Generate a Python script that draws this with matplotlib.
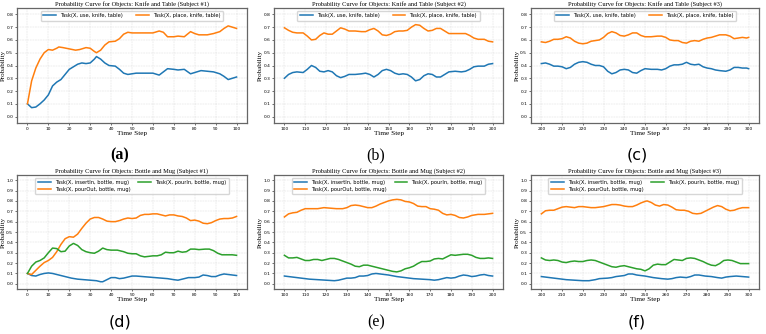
import numpy as np
import matplotlib
matplotlib.use("Agg")
import matplotlib.pyplot as plt

# ---- panel (a): knife and table, subject #1 ----
t_a_use = [0, 2, 4, 6, 8, 10, 12, 14, 16, 18, 20, 22, 24, 26, 28, 30, 32, 33, 35, 37, 39, 42, 44, 46, 48,
           50, 52, 55, 58, 60, 63, 65, 67, 70, 72, 75, 78, 80, 83, 86, 89, 92, 94, 96, 98, 100]
a_use = [0.10, 0.07, 0.075, 0.10, 0.13, 0.17, 0.24, 0.27, 0.29, 0.33, 0.37, 0.39, 0.41, 0.42, 0.415, 0.42,
         0.45, 0.47, 0.45, 0.42, 0.40, 0.395, 0.37, 0.34, 0.33, 0.335, 0.34, 0.34, 0.34, 0.34, 0.325, 0.35,
         0.375, 0.37, 0.365, 0.37, 0.335, 0.345, 0.36, 0.355, 0.35, 0.335, 0.315, 0.29, 0.30, 0.31]
t_a_place = [0, 2, 4, 6, 8, 10, 12, 14, 15, 17, 20, 23, 25, 28, 30, 32, 33, 35, 37, 39, 42, 44, 46, 48, 50,
             53, 56, 60, 63, 65, 67, 70, 72, 75, 78, 80, 82, 86, 89, 92, 94, 96, 98, 100]
a_place = [0.10, 0.28, 0.38, 0.45, 0.50, 0.525, 0.52, 0.535, 0.545, 0.54, 0.53, 0.52, 0.525, 0.54, 0.535,
           0.51, 0.50, 0.52, 0.56, 0.585, 0.59, 0.61, 0.645, 0.66, 0.655, 0.655, 0.655, 0.655, 0.67, 0.66,
           0.625, 0.625, 0.63, 0.625, 0.665, 0.65, 0.64, 0.64, 0.65, 0.665, 0.69, 0.71, 0.70, 0.69]

# ---- panel (b): knife and table, subject #2 ----
t_b = [100, 102, 104, 106, 109, 111, 113, 115, 117, 119, 121, 123, 125, 127, 129, 131, 134, 137, 139, 141,
       143, 145, 147, 149, 151, 153, 155, 157, 159, 161, 163, 165, 167, 169, 171, 173, 175, 177, 179, 182,
       185, 187, 189, 191, 193, 196, 198, 200]
b_use = [0.30, 0.33, 0.345, 0.35, 0.345, 0.37, 0.40, 0.385, 0.355, 0.35, 0.36, 0.35, 0.32, 0.305, 0.315,
         0.33, 0.33, 0.335, 0.34, 0.33, 0.31, 0.33, 0.36, 0.37, 0.36, 0.34, 0.33, 0.335, 0.33, 0.31, 0.28,
         0.29, 0.32, 0.335, 0.33, 0.31, 0.31, 0.33, 0.35, 0.355, 0.35, 0.355, 0.37, 0.39, 0.395, 0.395,
         0.41, 0.415]
b_place = [0.695, 0.675, 0.66, 0.655, 0.655, 0.63, 0.60, 0.605, 0.635, 0.655, 0.645, 0.645, 0.67, 0.695,
           0.685, 0.67, 0.67, 0.665, 0.665, 0.68, 0.69, 0.67, 0.64, 0.635, 0.645, 0.665, 0.67, 0.67, 0.675,
           0.70, 0.72, 0.715, 0.69, 0.67, 0.675, 0.69, 0.69, 0.67, 0.65, 0.65, 0.65, 0.65, 0.635, 0.615,
           0.605, 0.605, 0.59, 0.585]

# ---- panel (c): knife and table, subject #3 ----
t_c = [200, 202, 204, 206, 208, 210, 212, 214, 216, 218, 220, 222, 224, 226, 228, 230, 232, 234, 236, 238,
       240, 242, 244, 246, 248, 250, 253, 256, 258, 260, 262, 264, 266, 268, 270, 272, 274, 276, 278, 280,
       282, 284, 286, 289, 291, 293, 295, 297, 299, 300]
c_use = [0.415, 0.42, 0.41, 0.395, 0.395, 0.39, 0.375, 0.385, 0.41, 0.425, 0.43, 0.425, 0.41, 0.40, 0.40,
         0.39, 0.355, 0.335, 0.345, 0.365, 0.37, 0.365, 0.345, 0.34, 0.36, 0.375, 0.37, 0.37, 0.365, 0.375,
         0.395, 0.405, 0.405, 0.41, 0.425, 0.41, 0.405, 0.41, 0.39, 0.38, 0.375, 0.365, 0.36, 0.355, 0.365,
         0.385, 0.385, 0.38, 0.38, 0.375]
c_place = [0.585, 0.58, 0.59, 0.605, 0.605, 0.61, 0.625, 0.615, 0.59, 0.575, 0.57, 0.575, 0.59, 0.595,
           0.60, 0.62, 0.65, 0.665, 0.655, 0.635, 0.63, 0.64, 0.655, 0.655, 0.635, 0.625, 0.625, 0.63, 0.63,
           0.62, 0.60, 0.595, 0.595, 0.58, 0.575, 0.59, 0.595, 0.59, 0.605, 0.615, 0.62, 0.63, 0.64, 0.64,
           0.63, 0.61, 0.615, 0.62, 0.615, 0.62]

# ---- panel (d): bottle and mug, subject #1 ----
t_d_in = [0, 2, 4, 6, 8, 10, 12, 15, 18, 21, 24, 27, 30, 33, 35, 36, 38, 40, 42, 44, 46, 48, 50, 52, 55,
          58, 61, 64, 67, 70, 72, 74, 77, 80, 82, 84, 86, 88, 90, 92, 94, 96, 98, 100]
d_insert = [0.10, 0.08, 0.075, 0.09, 0.10, 0.105, 0.10, 0.085, 0.07, 0.055, 0.045, 0.04, 0.035, 0.03,
            0.02, 0.02, 0.04, 0.06, 0.06, 0.05, 0.055, 0.065, 0.075, 0.075, 0.07, 0.065, 0.06, 0.055, 0.05,
            0.04, 0.035, 0.045, 0.06, 0.06, 0.065, 0.085, 0.08, 0.07, 0.07, 0.085, 0.095, 0.09, 0.085, 0.08]
t_d_pin = [0, 2, 4, 6, 8, 10, 12, 14, 16, 18, 20, 22, 24, 26, 28, 30, 32, 34, 36, 38, 40, 43, 46, 48, 50,
           52, 54, 56, 58, 60, 62, 64, 66, 68, 70, 72, 74, 76, 78, 80, 82, 85, 87, 89, 91, 93, 95, 98, 100]
d_pourin = [0.10, 0.17, 0.21, 0.225, 0.25, 0.30, 0.345, 0.34, 0.31, 0.315, 0.365, 0.39, 0.37, 0.33, 0.31,
            0.30, 0.295, 0.315, 0.345, 0.33, 0.325, 0.325, 0.31, 0.295, 0.29, 0.29, 0.27, 0.26, 0.265, 0.27,
            0.27, 0.28, 0.305, 0.30, 0.30, 0.315, 0.305, 0.31, 0.335, 0.335, 0.33, 0.335, 0.335, 0.32,
            0.295, 0.28, 0.28, 0.28, 0.275]
t_d_out = [0, 2, 4, 6, 8, 10, 12, 14, 16, 18, 20, 22, 24, 26, 28, 30, 32, 34, 36, 38, 40, 42, 44, 46, 48,
           50, 52, 54, 56, 58, 60, 62, 64, 66, 68, 70, 72, 74, 76, 78, 80, 82, 84, 86, 88, 90, 92, 94, 96,
           98, 100]
d_pourout = [0.10, 0.09, 0.13, 0.17, 0.205, 0.225, 0.255, 0.31, 0.38, 0.435, 0.455, 0.45, 0.48, 0.535,
             0.585, 0.625, 0.64, 0.64, 0.625, 0.605, 0.60, 0.60, 0.61, 0.625, 0.635, 0.63, 0.635, 0.66,
             0.67, 0.67, 0.675, 0.675, 0.665, 0.655, 0.665, 0.665, 0.655, 0.65, 0.635, 0.61, 0.615, 0.605,
             0.585, 0.58, 0.59, 0.61, 0.625, 0.63, 0.63, 0.635, 0.65]

# ---- panel (e): bottle and mug, subject #2 ----
t_e_in = [100, 104, 108, 112, 116, 120, 124, 126, 128, 130, 132, 134, 136, 138, 140, 142, 144, 146, 150,
          154, 158, 162, 166, 170, 172, 174, 176, 178, 180, 182, 184, 186, 188, 190, 192, 194, 196, 198, 200]
e_insert = [0.075, 0.065, 0.055, 0.045, 0.04, 0.035, 0.03, 0.035, 0.045, 0.055, 0.055, 0.06, 0.075, 0.075,
            0.08, 0.095, 0.10, 0.095, 0.085, 0.07, 0.06, 0.05, 0.045, 0.04, 0.035, 0.04, 0.05, 0.06, 0.055,
            0.06, 0.075, 0.085, 0.08, 0.07, 0.075, 0.085, 0.09, 0.08, 0.075]
t_e = [100, 102, 104, 106, 108, 110, 112, 114, 116, 118, 120, 122, 124, 126, 128, 130, 132, 134, 136, 138,
       140, 142, 144, 146, 148, 150, 152, 154, 156, 158, 160, 162, 164, 166, 168, 170, 172, 174, 176, 178,
       180, 182, 184, 186, 188, 190, 192, 194, 196, 198, 200]
e_pourin = [0.275, 0.25, 0.25, 0.255, 0.24, 0.225, 0.225, 0.235, 0.235, 0.225, 0.235, 0.245, 0.245, 0.235,
            0.22, 0.205, 0.19, 0.17, 0.165, 0.18, 0.18, 0.17, 0.16, 0.15, 0.14, 0.13, 0.12, 0.115, 0.125,
            0.145, 0.155, 0.17, 0.195, 0.215, 0.215, 0.22, 0.24, 0.245, 0.24, 0.26, 0.28, 0.275, 0.28,
            0.285, 0.285, 0.275, 0.255, 0.245, 0.245, 0.25, 0.245]
t_e_out = [100, 102, 104, 106, 108, 110, 113, 116, 119, 122, 125, 128, 130, 132, 134, 136, 138, 140, 142,
           144, 146, 148, 150, 152, 154, 156, 158, 160, 162, 164, 166, 168, 170, 172, 174, 176, 178, 180,
           182, 184, 186, 188, 190, 193, 196, 198, 200]
e_pourout = [0.645, 0.675, 0.685, 0.69, 0.71, 0.725, 0.725, 0.725, 0.735, 0.73, 0.725, 0.725, 0.735, 0.755,
             0.76, 0.755, 0.745, 0.735, 0.735, 0.75, 0.77, 0.785, 0.80, 0.81, 0.815, 0.81, 0.795, 0.79,
             0.775, 0.75, 0.745, 0.745, 0.725, 0.72, 0.71, 0.68, 0.665, 0.67, 0.66, 0.64, 0.635, 0.645,
             0.66, 0.67, 0.67, 0.675, 0.68]

# ---- panel (f): bottle and mug, subject #3 ----
t_f_in = [200, 204, 208, 212, 216, 220, 223, 226, 228, 232, 234, 236, 238, 240, 242, 244, 246, 250, 254,
          258, 261, 263, 265, 267, 270, 272, 274, 276, 279, 282, 285, 287, 289, 291, 294, 297, 300]
f_insert = [0.07, 0.06, 0.05, 0.04, 0.035, 0.03, 0.03, 0.04, 0.05, 0.055, 0.06, 0.07, 0.075, 0.08, 0.095,
            0.095, 0.085, 0.075, 0.06, 0.05, 0.045, 0.05, 0.06, 0.065, 0.06, 0.07, 0.085, 0.085, 0.075,
            0.07, 0.06, 0.055, 0.065, 0.07, 0.075, 0.07, 0.065]
t_f = [200, 202, 204, 206, 208, 210, 212, 214, 216, 218, 220, 222, 224, 226, 228, 230, 232, 234, 236, 238,
       240, 242, 244, 246, 248, 250, 252, 254, 256, 258, 260, 262, 264, 266, 268, 270, 272, 274, 276, 278,
       280, 282, 284, 286, 288, 290, 292, 294, 296, 298, 300]
f_pourin = [0.25, 0.23, 0.225, 0.23, 0.225, 0.21, 0.205, 0.215, 0.22, 0.215, 0.215, 0.225, 0.23, 0.225,
            0.21, 0.195, 0.18, 0.165, 0.16, 0.17, 0.175, 0.165, 0.155, 0.145, 0.14, 0.125, 0.145, 0.18,
            0.19, 0.185, 0.185, 0.21, 0.235, 0.23, 0.225, 0.245, 0.25, 0.245, 0.23, 0.215, 0.195, 0.18,
            0.175, 0.195, 0.225, 0.23, 0.225, 0.21, 0.195, 0.195, 0.195]
t_f_out = [200, 202, 204, 206, 208, 210, 212, 214, 216, 218, 220, 222, 224, 226, 228, 230, 232, 234, 236,
           238, 240, 242, 244, 246, 248, 250, 251, 253, 255, 257, 259, 261, 263, 265, 267, 269, 271, 273,
           275, 277, 279, 281, 283, 285, 287, 289, 291, 293, 295, 297, 300]
f_pourout = [0.675, 0.705, 0.71, 0.71, 0.725, 0.74, 0.745, 0.74, 0.735, 0.745, 0.745, 0.74, 0.735, 0.735,
             0.74, 0.745, 0.755, 0.765, 0.765, 0.76, 0.75, 0.745, 0.745, 0.76, 0.78, 0.795, 0.80, 0.785,
             0.76, 0.75, 0.765, 0.76, 0.74, 0.715, 0.71, 0.71, 0.70, 0.68, 0.675, 0.68, 0.70, 0.72, 0.74,
             0.755, 0.745, 0.72, 0.705, 0.71, 0.725, 0.735, 0.735]

knife_titles = ["Probability Curve for Objects: Knife and Table (Subject #1)",
                "Probability Curve for Objects: Knife and Table (Subject #2)",
                "Probability Curve for Objects: Knife and Table (Subject #3)"]
bottle_titles = ["Probability Curve for Objects: Bottle and Mug (Subject #1)",
                 "Probability Curve for Objects: Bottle and Mug (Subject #2)",
                 "Probability Curve for Objects: Bottle and Mug (Subject #3)"]
panel_labels = ["(a)", "(b)", "(c)", "(d)", "(e)", "(f)"]

SERIF = "Liberation Serif"


def style_axes(ax, title, xstart, ymax):
    ax.set_title(title, fontsize=4.6, family=SERIF, pad=1.5)
    ax.set_xlabel("Time Step", fontsize=5.2, family=SERIF, labelpad=0.5)
    ax.set_ylabel("Probability", fontsize=5, family=SERIF, labelpad=0.5)
    ax.set_xticks(np.arange(xstart, xstart + 101, 10))
    ax.set_yticks(np.round(np.arange(0, ymax + 0.01, 0.1), 1))
    ax.yaxis.set_major_formatter(matplotlib.ticker.FormatStrFormatter("%.1f"))
    ax.set_ylim(-0.05, ymax + 0.05)
    ax.tick_params(labelsize=3.2, length=1.5, width=0.4, pad=1.2)
    ax.grid(True, color="#cccccc", linestyle="--", linewidth=0.35, alpha=0.7)
    for s in ax.spines.values():
        s.set_color("#666666")
        s.set_linewidth(0.9)


fig = plt.figure(figsize=(7.66, 3.34), dpi=100)

lefts = [17 / 766, 274 / 766, 531 / 766]
widths = [230 / 766, 229 / 766, 228 / 766]
top_b, top_h = 1 - 123 / 334, 115 / 334
bot_b, bot_h = 1 - 289 / 334, 114 / 334
lw = 1.1

# top row
knife_data = [(t_a_use, a_use, t_a_place, a_place), (t_b, b_use, t_b, b_place), (t_c, c_use, t_c, c_place)]
for i, (tu, u, tp, p) in enumerate(knife_data):
    ax = fig.add_axes([lefts[i], top_b, widths[i], top_h])
    ax.plot(tu, u, color="C0", lw=lw, label="Task(X, use, knife, table)")
    ax.plot(tp, p, color="C1", lw=lw, label="Task(X, place, knife, table)")
    style_axes(ax, knife_titles[i], i * 100, 0.8)
    ax.legend(loc="upper center", ncol=2, fontsize=3.7, handlelength=2.5, columnspacing=2.5,
              borderpad=0.5, framealpha=0.8)

# bottom row
bottle_data = [(t_d_in, d_insert, t_d_out, d_pourout, t_d_pin, d_pourin),
               (t_e_in, e_insert, t_e_out, e_pourout, t_e, e_pourin),
               (t_f_in, f_insert, t_f_out, f_pourout, t_f, f_pourin)]
for i, (ti, ins, to, out, tpi, pin) in enumerate(bottle_data):
    ax = fig.add_axes([lefts[i], bot_b, widths[i], bot_h])
    ax.plot(ti, ins, color="C0", lw=lw, label="Task(X, insertIn, bottle, mug)")
    ax.plot(to, out, color="C1", lw=lw, label="Task(X, pourOut, bottle, mug)")
    ax.plot(tpi, pin, color="C2", lw=lw, label="Task(X, pourIn, bottle, mug)")
    style_axes(ax, bottle_titles[i], i * 100, 1.0)
    ax.legend(loc="upper center", ncol=2, fontsize=3.7, handlelength=2.5, columnspacing=1.5,
              borderpad=0.5, labelspacing=0.3, framealpha=0.8)

# sub-figure labels
label_x = [120 / 766, 376 / 766, 637 / 766]
label_fonts = [(SERIF, "bold"), (SERIF, "normal"), ("DejaVu Sans", "normal"),
               ("DejaVu Sans", "normal"), (SERIF, "normal"), ("DejaVu Sans", "normal")]
for k, lab in enumerate(panel_labels):
    y = 1 - 155 / 334 if k < 3 else 1 - 322 / 334
    fam, wt = label_fonts[k]
    fig.text(label_x[k % 3], y, lab, ha="center", va="center", fontsize=11.5, family=fam, weight=wt)

fig.savefig("out.png", dpi=100)
